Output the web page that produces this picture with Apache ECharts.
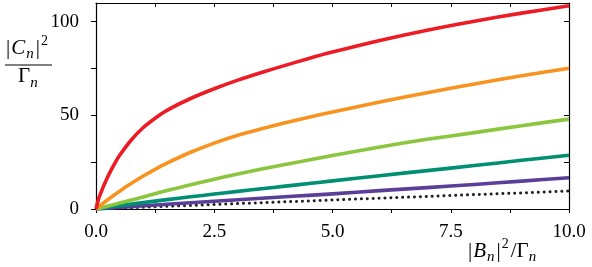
<!DOCTYPE html>
<html style="height: 100%">
  <head>
    <meta charset="utf-8" />
  </head>
  <body style="height: 100%; margin: 0; background: #fff">
    <div id="container" style="width: 592px; height: 267px"></div>
    <script src="https://cdn.jsdelivr.net/npm/echarts@6.0.0/dist/echarts.min.js"></script>
    <script type="text/javascript">
      // values
      let xs = [0, 0.05, 0.1, 0.2, 0.3, 0.4, 0.5, 0.75, 1, 1.25, 1.5, 2, 2.5, 3, 3.5, 4, 4.5, 5, 6, 7, 8, 9, 10];
      let red = [0, 5, 8.5, 14.5, 19.8, 24.5, 28.7, 37, 43.5, 48.5, 52.7, 59, 64.2, 68.8, 72.9, 76.7, 80.4, 83.8, 90, 95.5, 100.3, 104.6, 108.5];
      let orange = [0, 1, 2, 4, 5.9, 7.7, 9.5, 13.7, 17.6, 21.2, 24.5, 30.3, 35.2, 39.4, 42.8, 46, 49, 51.8, 57.1, 62.1, 66.8, 71.1, 75.2];
      let lightGreen = [0, 0.3, 0.6, 1.2, 1.9, 2.5, 3.2, 4.8, 6.4, 8.2, 9.9, 12.9, 15.9, 18.7, 21.3, 23.8, 26.2, 28.6, 33.1, 37.2, 40.8, 44.5, 48];
      let teal = [0, 0.17, 0.35, 0.7, 1.05, 1.4, 1.8, 2.6, 3.4, 4.2, 5, 6.5, 8, 9.4, 10.8, 12.2, 13.6, 15, 17.8, 20.5, 23.2, 26, 28.7];
      let purple = [0, 0.08, 0.17, 0.34, 0.5, 0.68, 0.85, 1.27, 1.7, 2.1, 2.5, 3.3, 4.1, 4.9, 5.7, 6.5, 7.3, 8.1, 9.8, 11.4, 13.1, 14.9, 16.7];
      let dotted = [0, 0.05, 0.1, 0.2, 0.3, 0.4, 0.5, 0.7, 0.95, 1.2, 1.45, 1.9, 2.4, 2.9, 3.35, 3.85, 4.3, 4.8, 5.8, 6.7, 7.7, 8.6, 9.6];

      let xTicks = [0, 1.25, 2.5, 3.75, 5, 6.25, 7.5, 8.75, 10];
      let xLabels = [0, 2.5, 5, 7.5, 10];
      let yTicks = [0, 25, 50, 75, 100];
      let yLabels = [0, 50, 100];

      var myChart = echarts.init(document.getElementById("container"));
      var font = "Liberation Serif";

      function pairs(ys) {
        return xs.map(function (x, i) {
          return [x, ys[i]];
        });
      }

      function curve(ys, color, extra) {
        return Object.assign(
          {
            type: "line",
            data: pairs(ys),
            showSymbol: false,
            smooth: 0.25,
            silent: true,
            lineStyle: { color: color, width: 3.6, join: "round" },
          },
          extra || {}
        );
      }

      // rich text pieces for the math labels
      var mathRich = {
        t: { fontFamily: font, fontSize: 21, color: "#000", lineHeight: 28 },
        i: { fontFamily: font, fontSize: 21, fontStyle: "italic", color: "#000", lineHeight: 28, padding: [0, 1, 0, 1] },
        s: { fontFamily: font, fontSize: 15, fontStyle: "italic", color: "#000", lineHeight: 13, verticalAlign: "bottom", padding: [0, 2, 0, 0] },
        p: { fontFamily: font, fontSize: 14, color: "#000", lineHeight: 13, verticalAlign: "top", padding: [0, 2, 0, 1] },
      };

      var axisLine = { show: true, onZero: false, lineStyle: { color: "#000", width: 1.2 } };

      var option = {
        animation: false,
        grid: { left: 96, right: 23, top: 3, bottom: 58 },
        xAxis: [
          {
            type: "value",
            min: 0,
            max: 10,
            axisLine: axisLine,
            splitLine: { show: false },
            axisTick: { customValues: xTicks, length: 4, lineStyle: { color: "#000" } },
            axisLabel: {
              customValues: xLabels,
              margin: 14,
              fontFamily: font,
              fontSize: 19,
              color: "#000",
              formatter: function (v) {
                return v.toFixed(1);
              },
            },
          },
          {
            type: "value",
            position: "top",
            min: 0,
            max: 10,
            axisLine: axisLine,
            splitLine: { show: false },
            axisTick: { customValues: xTicks, inside: true, length: 4, lineStyle: { color: "#000" } },
            axisLabel: { show: false },
          },
        ],
        yAxis: [
          {
            type: "value",
            min: 0,
            max: 110,
            axisLine: axisLine,
            splitLine: { show: false },
            axisTick: { customValues: yTicks, length: 5, lineStyle: { color: "#000" } },
            axisLabel: {
              customValues: yLabels,
              margin: 17,
              fontFamily: font,
              fontSize: 19,
              color: "#000",
            },
          },
          {
            type: "value",
            position: "right",
            min: 0,
            max: 110,
            axisLine: axisLine,
            splitLine: { show: false },
            axisTick: { customValues: yTicks, inside: true, length: 5, lineStyle: { color: "#000" } },
            axisLabel: { show: false },
          },
        ],
        graphic: [
          {
            type: "text",
            left: 6,
            top: 34,
            style: { text: "{t||}{i|C}{s|n}{t||}{p|2}", rich: mathRich },
          },
          {
            type: "line",
            shape: { x1: 5, y1: 65, x2: 52, y2: 65 },
            style: { stroke: "#000", lineWidth: 1 },
          },
          {
            type: "text",
            left: 18,
            top: 66,
            style: { text: "{t|Γ}{s|n}", rich: mathRich },
          },
          {
            type: "text",
            left: 468,
            top: 237,
            style: { text: "{t||}{i|B}{s|n}{t||}{p|2}{t|/Γ}{s|n}", rich: mathRich },
          },
        ],
        series: [
          curve(dotted, "#222", {
            smooth: false,
            lineStyle: { color: "#222", width: 3, type: [0.1, 5.8], cap: "round" },
          }),
          curve(purple, "#5b3e98"),
          curve(teal, "#008f72"),
          curve(lightGreen, "#8cc63f"),
          curve(orange, "#f7931e"),
          curve(red, "#ed1c24"),
        ],
      };

      myChart.setOption(option);
    </script>
  </body>
</html>
